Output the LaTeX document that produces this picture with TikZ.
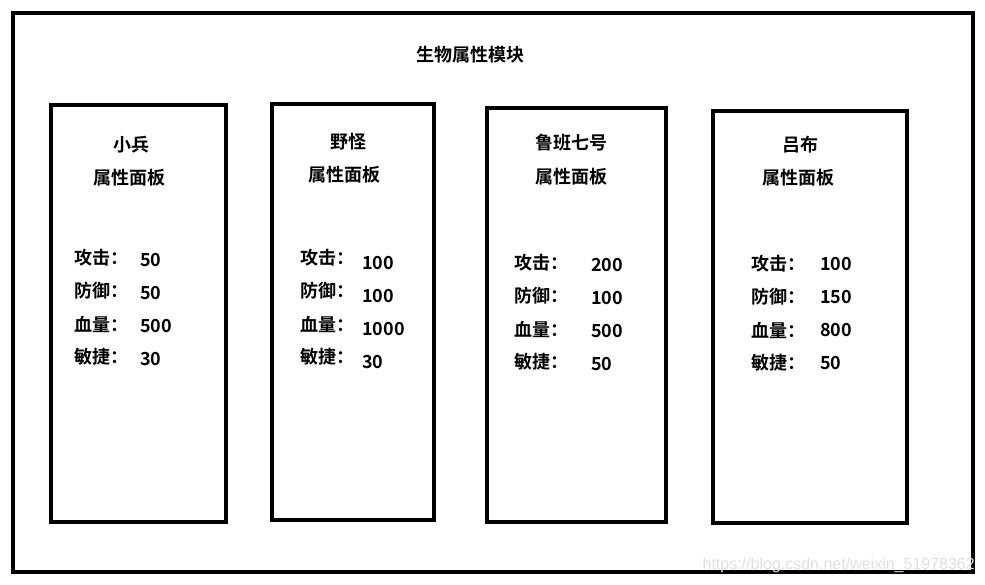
\documentclass[tikz,border=0pt]{standalone}
\usepackage{fontspec}
\newfontfamily\cjk{Noto Sans CJK SC}[BoldFont={Noto Sans CJK SC Bold}]
\newfontfamily\wm{Liberation Sans}
\begin{document}
\begin{tikzpicture}[x=1pt,y=-1pt,
  frame/.style={draw=black,line width=3.5pt},
  panel/.style={draw=black,line width=4pt},
  txt/.style={font=\cjk\bfseries\fontsize{18}{18}\selectfont,inner sep=0pt},
  lbl/.style={txt,anchor=west},
  val/.style={txt,anchor=west}]
\useasboundingbox (0,0) rectangle (985,585);
\fill[white] (0,0) rectangle (985,585);
\draw[frame] (13,13) rectangle (973,572);
\node[txt] (title) at (470,55) {生物属性模块};
% panels
\draw[panel] (51,105) rectangle (226,522);
\draw[panel] (272,104) rectangle (434,520);
\draw[panel] (487,108) rectangle (666,522);
\draw[panel] (713,111) rectangle (907,523);
% panel 1
\node[txt] (p1a) at (131,145) {小兵};
\node[txt] (p1b) at (129,178) {属性面板};
\node[lbl] (p1l1) at (74,258) {攻击：};
\node[lbl] (p1l2) at (74,291) {防御：};
\node[lbl] (p1l3) at (74,324) {血量：};
\node[lbl] (p1l4) at (74,357) {敏捷：};
\node[val] (p1v1) at (140,260) {50};
\node[val] (p1v2) at (140,293) {50};
\node[val] (p1v3) at (140,326) {500};
\node[val] (p1v4) at (140,359) {30};
% panel 2
\node[txt] (p2a) at (348,142) {野怪};
\node[txt] (p2b) at (344,175) {属性面板};
\node[lbl] (p2l1) at (300,258) {攻击：};
\node[lbl] (p2l2) at (300,291) {防御：};
\node[lbl] (p2l3) at (300,324) {血量：};
\node[lbl] (p2l4) at (300,357) {敏捷：};
\node[val] (p2v1) at (362,263) {100};
\node[val] (p2v2) at (362,296) {100};
\node[val] (p2v3) at (362,329) {1000};
\node[val] (p2v4) at (362,362) {30};
% panel 3
\node[txt] (p3a) at (571,143) {鲁班七号};
\node[txt] (p3b) at (571,177) {属性面板};
\node[lbl] (p3l1) at (514,263) {攻击：};
\node[lbl] (p3l2) at (514,296) {防御：};
\node[lbl] (p3l3) at (514,329) {血量：};
\node[lbl] (p3l4) at (514,362) {敏捷：};
\node[val] (p3v1) at (591,265) {200};
\node[val] (p3v2) at (591,298) {100};
\node[val] (p3v3) at (591,331) {500};
\node[val] (p3v4) at (591,364) {50};
% panel 4
\node[txt] (p4a) at (800,145) {吕布};
\node[txt] (p4b) at (798,178) {属性面板};
\node[lbl] (p4l1) at (751,264) {攻击：};
\node[lbl] (p4l2) at (751,297) {防御：};
\node[lbl] (p4l3) at (751,330) {血量：};
\node[lbl] (p4l4) at (751,363) {敏捷：};
\node[val] (p4v1) at (820,264) {100};
\node[val] (p4v2) at (820,297) {150};
\node[val] (p4v3) at (820,330) {800};
\node[val] (p4v4) at (820,363) {50};
% watermark
\node[font=\wm\fontsize{16}{16}\selectfont,text=black!12,anchor=east,inner sep=0pt] (wm) at (975,565) {https://blog.csdn.net/weixin\_51978362};
\end{tikzpicture}
\end{document}
